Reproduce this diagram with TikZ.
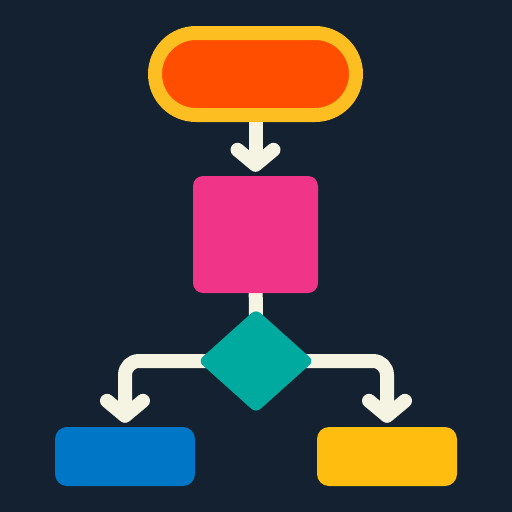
\documentclass[tikz,border=0pt]{standalone}
\usepackage{tikz}
\usetikzlibrary{calc}
\usetikzlibrary{shapes.geometric}
\usetikzlibrary{arrows.meta}
\definecolor{Nacht}{RGB}{19,33,49}
\definecolor{Gelb}{RGB}{252,190,32}
\definecolor{Rotorange}{RGB}{255,78,0}
\definecolor{Creme}{RGB}{245,243,226}
\definecolor{Pink}{RGB}{240,52,136}
\definecolor{Tuerkis}{RGB}{0,170,158}
\definecolor{Blau}{RGB}{0,118,198}
\definecolor{Goldgelb}{RGB}{255,190,15}
\pgfdeclarelayer{hinten}
\pgfdeclarelayer{linien}
\pgfsetlayers{hinten,linien,main}

\begin{document}
\begin{tikzpicture}[x=1pt, y=-1pt,
		Pfeil/.style={line width=14pt, color=Creme, arrows = -{Straight Barb[length=15pt, width=36pt, round]}, shorten >=4pt},
		Linie/.style={line width=14pt, color=Creme},
		Feld/.style={draw=none, inner sep=0pt, rounded corners=12pt, minimum width=140pt, minimum height=59pt}]
			\begin{pgfonlayer}{hinten}
				\fill[Nacht] (0,0) rectangle (512,512);
			\end{pgfonlayer}
			\useasboundingbox (0,0) rectangle (512,512);
			\node (start) at (255.5,74) [draw=Gelb, fill=Rotorange, line width=14pt, rounded corners=41pt, minimum width=201pt, minimum height=82pt, inner sep=0pt] {};
			\node (schritt) at (255.5,234.5) [fill=Pink, inner sep=0pt, rounded corners=10pt, minimum width=125pt, minimum height=117pt] {};
			\node (wahl) at (256,361) [diamond, fill=Tuerkis, inner sep=0pt, rounded corners=6pt, minimum width=116pt, minimum height=104pt] {};
			\node (links) at (125,456.5) [Feld, fill=Blau] {};
			\node (rechts) at (387,456.5) [Feld, fill=Goldgelb] {};
			\begin{pgfonlayer}{linien}
				\draw[Pfeil] (start) -- (schritt);
				\draw[Linie] (schritt) -- (wahl.center);
				\draw[Pfeil, rounded corners=14pt] (wahl.center) -| (links);
				\draw[Pfeil, rounded corners=14pt] (wahl.center) -| (rechts);
			\end{pgfonlayer}
		\end{tikzpicture}
\end{document}
